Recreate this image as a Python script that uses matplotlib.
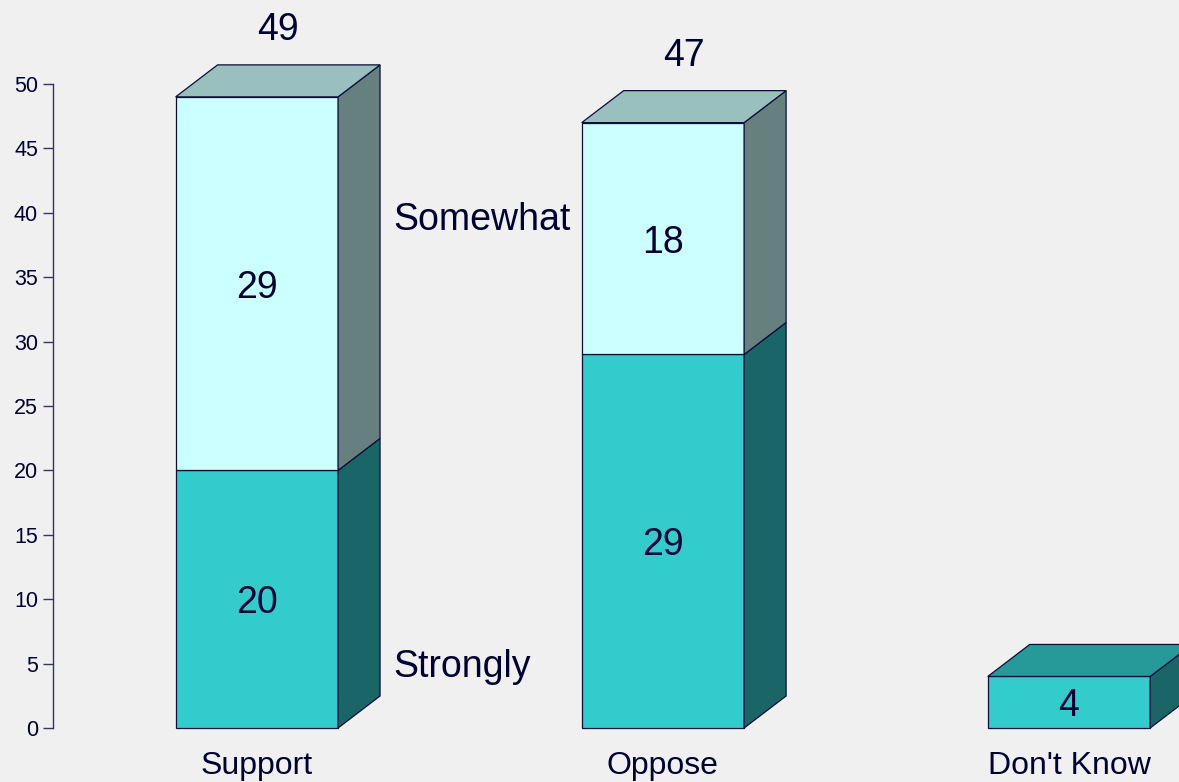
import matplotlib.pyplot as plt
from matplotlib.patches import Polygon

# ---- data ----
categories = ["Support", "Oppose", "Don't Know"]
strongly = [20, 29, 4]
somewhat = [29, 18, 0]
totals = [49, 47, None]

# ---- style ----
plt.rcParams['font.family'] = ['Liberation Sans', 'DejaVu Sans']
BG = '#f0f0f0'
INK = '#000033'
EDGE = '#0d0d3a'
colors = {
    'strong': ('#33cccc', '#1a6666', '#269999'),   # front, side, top
    'some': ('#ccffff', '#668080', '#99bfbf'),
}

W, H = 1179, 782
fig = plt.figure(figsize=(W / 100, H / 100), dpi=100, facecolor=BG)
ax = fig.add_axes([53 / W, 54 / H, (W - 53) / W, 644 / H])
ax.set_facecolor(BG)
ax.set_xlim(-0.502, 2.271)
ax.set_ylim(0, 50)

bw = 0.4          # bar width in category units
dx, dy = 0.1034, 2.485   # 3d depth offset


def box(x, y0, y1, cols, top=True):
    xl, xr = x - bw / 2, x + bw / 2
    front = Polygon([(xl, y0), (xr, y0), (xr, y1), (xl, y1)], closed=True,
                    facecolor=cols[0], edgecolor=EDGE, lw=0.9, clip_on=False)
    side = Polygon([(xr, y0), (xr + dx, y0 + dy), (xr + dx, y1 + dy), (xr, y1)],
                   closed=True, facecolor=cols[1], edgecolor=EDGE, lw=0.9, clip_on=False)
    ax.add_patch(front)
    ax.add_patch(side)
    if top:
        tp = Polygon([(xl, y1), (xr, y1), (xr + dx, y1 + dy), (xl + dx, y1 + dy)],
                     closed=True, facecolor=cols[2], edgecolor=EDGE, lw=0.9, clip_on=False)
        ax.add_patch(tp)


for i, cat in enumerate(categories):
    s, w = strongly[i], somewhat[i]
    box(i, 0, s, colors['strong'], top=(w == 0))
    ax.text(i, s / 2, str(s), ha='center', va='center_baseline', fontsize=27, color=INK)
    if w > 0:
        box(i, s, s + w, colors['some'])
        ax.text(i, s + w / 2, str(w), ha='center', va='center_baseline', fontsize=27, color=INK)
    if totals[i] is not None:
        ax.text(i + dx / 2, totals[i] + dy + 1.95, str(totals[i]), ha='center',
                va='baseline', fontsize=27, color=INK, clip_on=False)
    ax.text(i, -3.55, cat, ha='center', va='baseline', fontsize=23, color=INK, clip_on=False)

# series labels next to the first bar
lx = 0 + bw / 2 + dx + 0.032
ax.text(lx, 38.66, "Somewhat", ha='left', va='baseline', fontsize=27, color=INK)
ax.text(lx, 3.96, "Strongly", ha='left', va='baseline', fontsize=27, color=INK)

# axis
for sp in ['top', 'right', 'bottom']:
    ax.spines[sp].set_visible(False)
ax.spines['left'].set_color('#333366')
ax.spines['left'].set_linewidth(1.0)
ax.set_xticks([])
ax.set_yticks(range(0, 51, 5))
ax.tick_params(axis='y', length=7.2, width=1.0, color='#333366', labelcolor=INK,
               labelsize=15.5, pad=3.6)

fig.savefig('out.png', dpi=100, facecolor=BG)
